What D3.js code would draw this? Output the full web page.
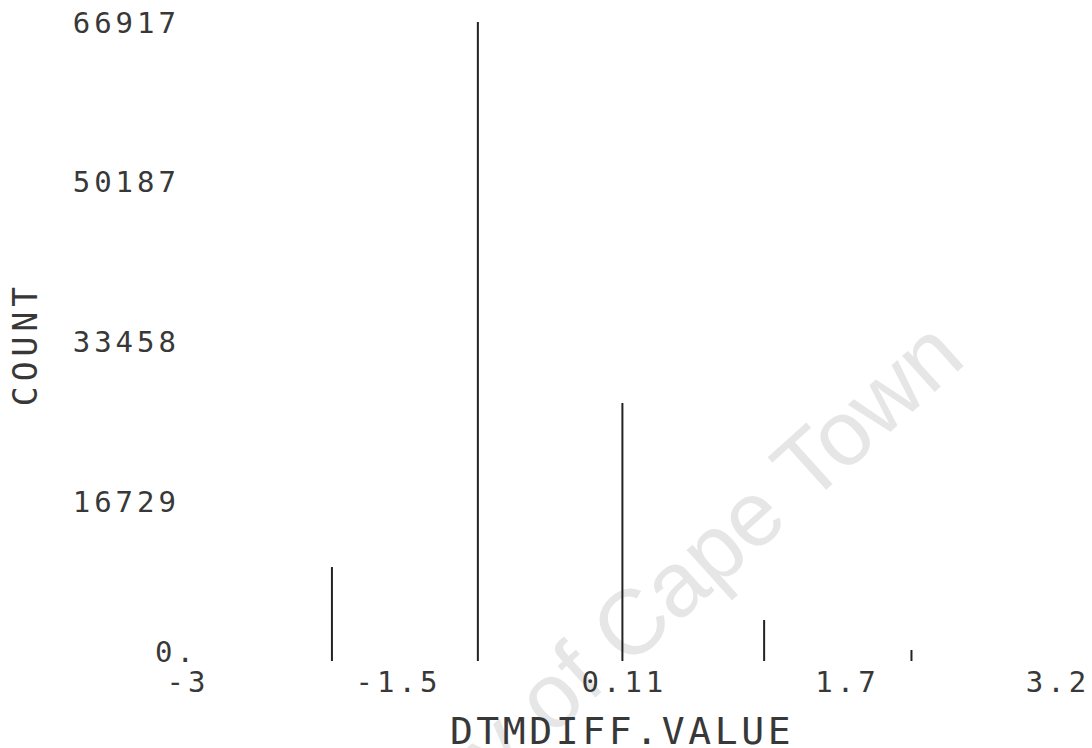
<!DOCTYPE html>
<html>
<head>
<meta charset="utf-8">
<script src="https://cdn.jsdelivr.net/npm/d3@7"></script>
<style>
  body { margin: 0; background: #fff; }
  svg text { font-family: "DejaVu Sans Mono", "Liberation Mono", monospace; fill: #383838; }
</style>
</head>
<body>
<div id="chart"></div>
<script>
// histogram spikes
var binValues = [-1.96, -0.92, 0.11, 1.12, 2.17];
var binCounts = [9840, 66917, 27020, 4290, 1150];

var xTicks = [-3, -1.5, 0.11, 1.7, 3.2];
var xTickLabels = ["-3", "-1.5", "0.11", "1.7", "3.2"];
var yTicks = [0, 16729, 33458, 50187, 66917];
var yTickLabels = ["0.", "16729", "33458", "50187", "66917"];

var xTitle = "DTMDIFF.VALUE";
var yTitle = "COUNT";
var watermark = "University of Cape Town";

var w = 1092, h = 748;

var x = d3.scaleLinear().domain([-3, 3.2]).range([186, 1056]);
var y = d3.scaleLinear().domain([0, 66917]).range([661, 22]);

var svg = d3.select("#chart").append("svg")
    .attr("width", w)
    .attr("height", h);

// faint diagonal watermark behind everything
svg.append("text")
    .attr("transform", "translate(968,362) rotate(-42)")
    .attr("text-anchor", "end")
    .style("font-family", "'Liberation Sans', Arial, sans-serif")
    .style("font-size", "92px")
    .style("fill", "#e6e6e6")
    .text(watermark);

// spikes
svg.selectAll("line.spike")
  .data(binValues)
  .enter().append("line")
    .attr("class", "spike")
    .attr("x1", function(d) { return x(d); })
    .attr("x2", function(d) { return x(d); })
    .attr("y1", y(0))
    .attr("y2", function(d, i) { return y(binCounts[i]); })
    .attr("stroke", "#222")
    .attr("stroke-width", 2);

// y tick labels (no axis line in the original)
svg.selectAll("text.ylab")
  .data(yTicks)
  .enter().append("text")
    .attr("class", "ylab")
    .attr("x", function(d) { return d === 0 ? 155 : 180; })
    .attr("y", function(d) { return d === 0 ? y(d) + 1 : y(d) + 10.5; })
    .attr("text-anchor", function(d) { return d === 0 ? "start" : "end"; })
    .style("font-size", "29px")
    .style("letter-spacing", "4px")
    .text(function(d, i) { return yTickLabels[i]; });

// x tick labels
svg.selectAll("text.xlab")
  .data(xTicks)
  .enter().append("text")
    .attr("class", "xlab")
    .attr("x", function(d) { return x(d) + 2; })
    .attr("y", 692)
    .attr("text-anchor", "middle")
    .style("font-size", "29px")
    .style("letter-spacing", "4px")
    .text(function(d, i) { return xTickLabels[i]; });

svg.append("text")
    .attr("x", 622)
    .attr("y", 744)
    .attr("text-anchor", "middle")
    .style("font-size", "38px")
    .style("letter-spacing", "3.6px")
    .text(xTitle);

svg.append("text")
    .attr("transform", "translate(37,344) rotate(-90)")
    .attr("text-anchor", "middle")
    .style("font-size", "33px")
    .style("letter-spacing", "5px")
    .text(yTitle);
</script>
</body>
</html>
